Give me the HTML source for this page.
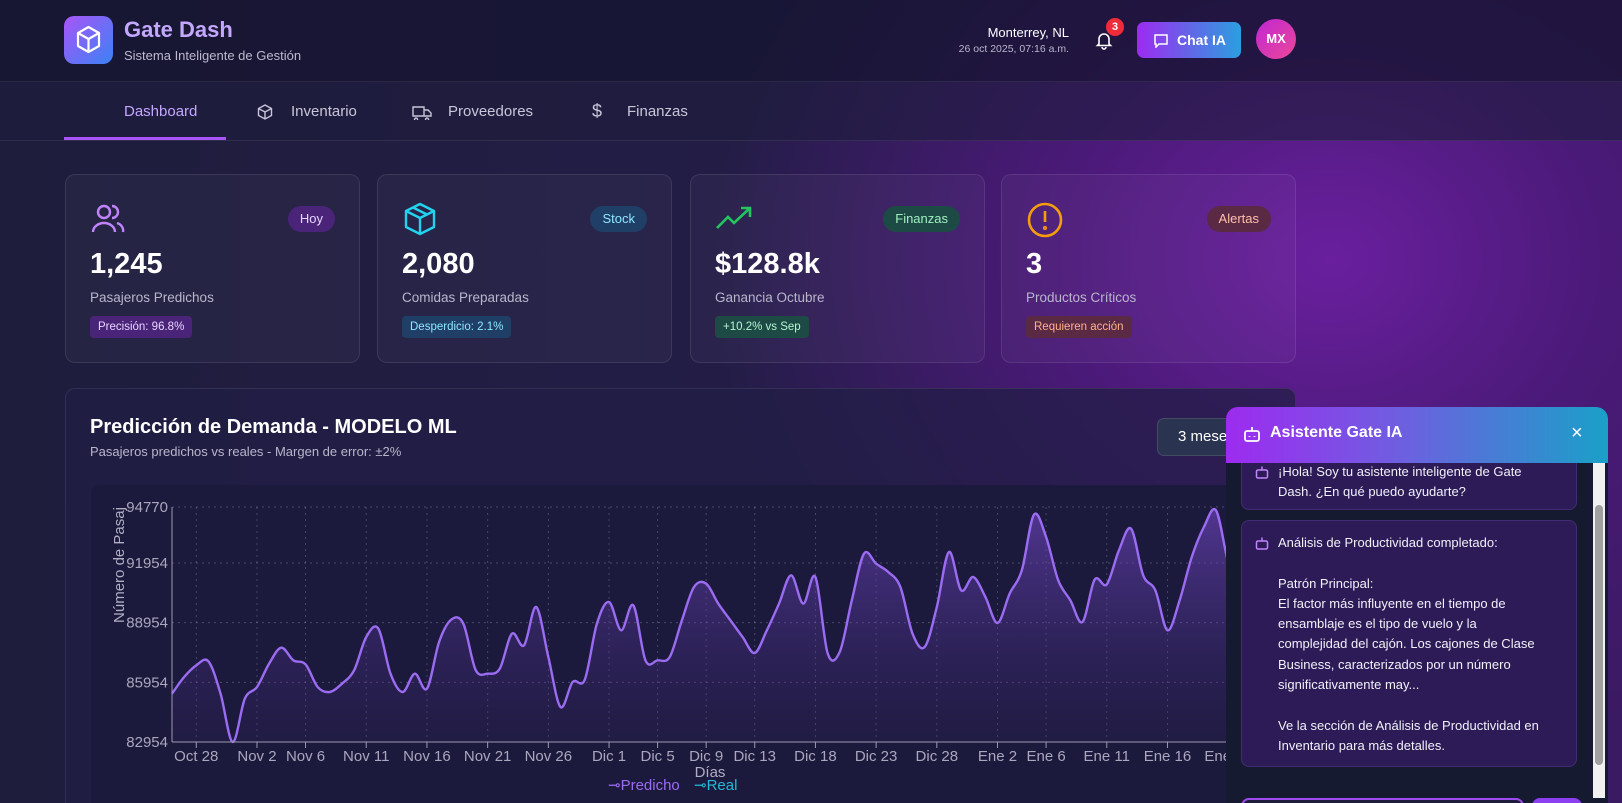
<!DOCTYPE html>
<html><head><meta charset="utf-8">
<style>
*{box-sizing:border-box;margin:0;padding:0}
html,body{width:1622px;height:803px;overflow:hidden}
body{position:relative;font-family:"Liberation Sans",sans-serif;color:#fff;
background:radial-gradient(ellipse 620px 520px at 1330px 260px,#6a1f9e 0%,#4a1a78 45%,rgba(40,22,80,0) 100%),linear-gradient(90deg,#1e1d3c 0%,#241d48 55%,#3a1a62 100%);}
.abs{position:absolute}
.header{left:0;top:0;width:1622px;height:82px;background:rgba(22,20,48,0.75);border-bottom:1px solid rgba(255,255,255,0.08)}
.nav{left:0;top:82px;width:1622px;height:59px;background:rgba(30,28,60,0.6);border-bottom:1px solid rgba(255,255,255,0.08)}
.navitem{position:absolute;top:21px;font-size:15px;color:#c8c6d8}
.card{position:absolute;top:174px;width:295px;height:189px;background:rgba(255,255,255,0.035);border:1px solid rgba(255,255,255,0.09);border-radius:10px}
.card .big{position:absolute;left:24px;top:73px;font-size:29px;font-weight:bold}
.card .lbl{position:absolute;left:24px;top:115px;font-size:13.5px;color:#b9b6cc}
.card .pill{position:absolute;left:24px;top:141px;height:22px;padding:0 8px;font-size:11.5px;line-height:22px;border-radius:4px}
.card .badge{position:absolute;right:24px;top:31px;height:26px;padding:0 12px;font-size:13px;line-height:26px;border-radius:13px}
.card .ico{position:absolute;left:24px;top:26px}
.chartcard{left:65px;top:388px;width:1231px;height:415px;background:rgba(34,30,70,0.75);border:1px solid rgba(255,255,255,0.08);border-bottom:none;border-radius:10px 10px 0 0;overflow:hidden}
.chat{left:1226px;top:407px;width:382px;height:396px;background:#161a30;border-radius:12px 12px 0 0;overflow:hidden}
.msg{position:absolute;left:15px;width:336px;background:#2c1b56;border:1px solid rgba(160,120,255,0.18);border-radius:8px;font-size:13px;line-height:20.3px;color:#f2f0fa;white-space:nowrap;overflow:hidden}
</style></head><body>
<div class="abs header">
 <div class="abs" style="left:64px;top:16px;width:49px;height:48px;border-radius:10px;background:linear-gradient(135deg,#a855f7,#3b82f6)">
  <svg width="49" height="48" viewBox="0 0 49 48"><g fill="none" stroke="#fff" stroke-width="2.2" stroke-linejoin="round"><path d="M24.5 11 L35 17 L35 30 L24.5 36 L14 30 L14 17 Z"/><path d="M14 17 L24.5 23 L35 17 M24.5 23 L24.5 36"/></g></svg></div>
 <div class="abs" style="left:124px;top:17px;font-size:22px;font-weight:bold;color:#c4a8ff">Gate Dash</div>
 <div class="abs" style="left:124px;top:48px;font-size:13px;color:#bdb9d0">Sistema Inteligente de Gestión</div>
 <div class="abs" style="right:553px;top:25px;font-size:13px;color:#fff;text-align:right">Monterrey, NL</div>
 <div class="abs" style="right:553px;top:43px;font-size:10.5px;color:#b9b6cc;text-align:right">26 oct 2025, 07:16 a.m.</div>
 <div class="abs" style="left:1094px;top:30px;width:20px;height:20px">
  <svg width="20" height="20" viewBox="0 0 20 20"><path d="M5 14 V9 a5 5 0 0 1 10 0 V14 L16.5 15.5 H3.5 Z M8 17 a2 2 0 0 0 4 0" fill="none" stroke="#fff" stroke-width="1.6"/></svg></div>
 <div class="abs" style="left:1106px;top:18px;width:18px;height:18px;border-radius:9px;background:#ef2b3a;font-size:11px;font-weight:bold;text-align:center;line-height:18px">3</div>
 <div class="abs" style="left:1137px;top:22px;width:104px;height:36px;border-radius:7px;background:linear-gradient(90deg,#9d2bf0,#2b9fe0);font-size:14px;font-weight:bold;line-height:36px;padding-left:40px">Chat IA
  <svg class="abs" style="left:16px;top:11px" width="16" height="15" viewBox="0 0 16 15"><path d="M2 2 H14 V11 H6 L3 14 V11 H2 Z" fill="none" stroke="#fff" stroke-width="1.5"/></svg></div>
 <div class="abs" style="left:1256px;top:19px;width:40px;height:40px;border-radius:20px;background:linear-gradient(135deg,#c026d3,#ec4899);font-size:13px;font-weight:bold;text-align:center;line-height:40px">MX</div>
</div>
<div class="abs nav">
 <div class="navitem" style="left:124px;color:#c4a8ff">Dashboard</div>
 <div class="abs" style="left:64px;top:55px;width:162px;height:3px;background:#a855f7"></div>
 <div class="navitem" style="left:256px">
  <svg style="position:absolute;left:0;top:0" width="18" height="18" viewBox="0 0 18 18"><path d="M9 2 L15.5 5.5 V12.5 L9 16 L2.5 12.5 V5.5 Z M2.5 5.5 L9 9 L15.5 5.5 M9 9 V16" fill="none" stroke="#c8c6d8" stroke-width="1.4"/></svg><span style="margin-left:35px">Inventario</span></div>
 <div class="navitem" style="left:412px">
  <svg style="position:absolute;left:0;top:1px" width="20" height="16" viewBox="0 0 20 16"><path d="M1 3 H12 V12 H1 Z M12 6 H16 L19 9 V12 H12 M4 14 a1.5 1.5 0 1 0 0.1 0 M15 14 a1.5 1.5 0 1 0 0.1 0" fill="none" stroke="#c8c6d8" stroke-width="1.4"/></svg><span style="margin-left:36px">Proveedores</span></div>
 <div class="navitem" style="left:592px"><span style="font-size:18px;position:absolute;left:0;top:-2px">$</span><span style="margin-left:35px">Finanzas</span></div>
</div>

<div class="card" style="left:65px">
 <svg class="ico" width="36" height="36" viewBox="0 0 36 36"><g fill="none" stroke="#c084fc" stroke-width="2.4"><circle cx="14" cy="11" r="6"/><path d="M3 31 a11 9 0 0 1 22 0 M22 5 a6 6 0 0 1 0 12 M27 22 a9 8 0 0 1 6 9"/></g></svg>
 <div class="badge" style="background:#4a2478;color:#e5d5ff">Hoy</div>
 <div class="big">1,245</div><div class="lbl">Pasajeros Predichos</div>
 <div class="pill" style="background:#4a2478;color:#e7d6ff">Precisión: 96.8%</div></div>
<div class="card" style="left:377px">
 <svg class="ico" width="36" height="36" viewBox="0 0 36 36"><g fill="none" stroke="#22d3ee" stroke-width="2.4" stroke-linejoin="round"><path d="M18 3 L32 10 V26 L18 33 L4 26 V10 Z M4 10 L18 17 L32 10 M18 17 V33 M11 6.5 L25 13.5"/></g></svg>
 <div class="badge" style="background:#1f3f66;color:#8fe6ff">Stock</div>
 <div class="big">2,080</div><div class="lbl">Comidas Preparadas</div>
 <div class="pill" style="background:#1f3f66;color:#8fe6ff">Desperdicio: 2.1%</div></div>
<div class="card" style="left:690px">
 <svg class="ico" width="38" height="36" viewBox="0 0 38 36"><g fill="none" stroke="#22c55e" stroke-width="2.6"><path d="M2 27 L13 16 L19 22 L35 7 M26 7 H35 V16"/></g></svg>
 <div class="badge" style="background:#1d4a45;color:#9ef0c0">Finanzas</div>
 <div class="big">$128.8k</div><div class="lbl">Ganancia Octubre</div>
 <div class="pill" style="background:#1d4a45;color:#b5f5cf">+10.2% vs Sep</div></div>
<div class="card" style="left:1001px">
 <svg class="ico" width="38" height="38" viewBox="0 0 38 38"><g fill="none" stroke="#f59e0b" stroke-width="2.6"><circle cx="19" cy="19" r="16"/><path d="M19 10 V21"/><circle cx="19" cy="27" r="0.8"/></g></svg>
 <div class="badge" style="background:#5a2a45;color:#ffc0a8">Alertas</div>
 <div class="big">3</div><div class="lbl">Productos Críticos</div>
 <div class="pill" style="background:#5a2a45;color:#ffb08a">Requieren acción</div></div>

<div class="abs chartcard">
 <div class="abs" style="left:24px;top:27px;font-size:20px;font-weight:bold">Predicción de Demanda - MODELO ML</div>
 <div class="abs" style="left:24px;top:55px;font-size:13px;color:#b9b6cc">Pasajeros predichos vs reales - Margen de error: ±2%</div>
 <div class="abs" style="left:1091px;top:29px;width:100px;height:38px;border-radius:7px;background:#2a3350;border:1px solid rgba(255,255,255,0.12);font-size:15px;line-height:36px;padding-left:20px">3 meses</div>
 <div class="abs" style="left:25px;top:96px;width:1195px;height:330px;border-radius:8px;background:#1c1a3c"></div>
</div>

<svg id="chart" class="abs" style="left:0;top:0" width="1622" height="803">
 <defs><linearGradient id="fillg" x1="0" y1="0" x2="0" y2="1"><stop offset="0" stop-color="#7c4dd6" stop-opacity="0.55"/><stop offset="1" stop-color="#3a2470" stop-opacity="0.15"/></linearGradient></defs>
</svg>

<div class="abs chat">
 <div class="msg" style="top:40px;height:63px;padding:14px 0 0 36px">
  <svg class="abs" style="left:13px;top:17px" width="14" height="14" viewBox="0 0 14 14"><g fill="none" stroke="#c084fc" stroke-width="1.5"><rect x="1.5" y="5" width="11" height="8" rx="1.5"/><path d="M7 1.5 V5"/></g></svg>
  ¡Hola! Soy tu asistente inteligente de Gate<br>Dash. ¿En qué puedo ayudarte?</div>
 <div class="msg" style="top:113px;height:247px;padding:12px 0 0 36px">
  <svg class="abs" style="left:13px;top:15px" width="14" height="14" viewBox="0 0 14 14"><g fill="none" stroke="#c084fc" stroke-width="1.5"><rect x="1.5" y="5" width="11" height="8" rx="1.5"/><path d="M7 1.5 V5"/></g></svg>
  Análisis de Productividad completado:<br><br>Patrón Principal:<br>El factor más influyente en el tiempo de<br>ensamblaje es el tipo de vuelo y la<br>complejidad del cajón. Los cajones de Clase<br>Business, caracterizados por un número<br>significativamente may...<br><br>Ve la sección de Análisis de Productividad en<br>Inventario para más detalles.</div>
 <div class="abs" style="left:0;top:0;width:382px;height:56px;background:linear-gradient(90deg,#9d2bf0,#6f5ee0 45%,#1aa0c8)">
  <svg class="abs" style="left:17px;top:18px" width="18" height="18" viewBox="0 0 18 18"><g fill="none" stroke="#fff" stroke-width="1.8"><rect x="2" y="6" width="14" height="10" rx="2"/><path d="M9 2 V6"/><path d="M6.5 11 v1 M11.5 11 v1"/></g></svg>
  <div class="abs" style="left:44px;top:17px;font-size:16px;font-weight:bold">Asistente Gate IA</div>
  <div class="abs" style="left:345px;top:15px;font-size:20px">×</div>
 </div>
 <div class="abs" style="left:367px;top:56px;width:12px;height:335px;background:#f1f1f1"><div style="position:absolute;left:2px;top:42px;width:8px;height:260px;border-radius:4px;background:#a0a0a0"></div></div>
 <div class="abs" style="left:15px;top:391px;width:283px;height:30px;border:2px solid #9d4bf0;border-radius:8px;background:#1e1c3a"></div>
 <div class="abs" style="left:306px;top:391px;width:50px;height:30px;border-radius:8px;background:#8b3ff0"></div>
</div>

<script>
const dayValues=[85384,86222,86809,87010,85384,82954,85133,85719,86893,87697,87060,86859,85719,85468,85887,86557,88233,88652,86390,85468,86390,85636,87982,89105,88904,86591,86390,86641,88401,87814,89742,87228,84714,85971,86088,88904,89993,88569,89826,87060,87060,87228,89071,90747,90915,89909,89071,88233,87429,88569,89909,91334,89909,91250,87429,87479,90077,92423,91921,91502,90747,88401,87731,89742,92507,90580,91250,90245,88937,90412,91585,94384,93261,91083,90077,88988,91116,90881,92591,93680,91334,90580,88569,90077,92256,93764,94600,92000,90500,91500];
const xTickLabels=["Oct 28","Nov 2","Nov 6","Nov 11","Nov 16","Nov 21","Nov 26","Dic 1","Dic 5","Dic 9","Dic 13","Dic 18","Dic 23","Dic 28","Ene 2","Ene 6","Ene 11","Ene 16","Ene 21"];
const xTickDays=[2,7,11,16,21,26,31,36,40,44,48,53,58,63,68,72,77,82,87];
const yTicks=[82954,85954,88954,91954,94770];
const yMin=82954,yMax=94770;
const NS="http://www.w3.org/2000/svg";
const svg=document.getElementById('chart');
const X0=172,DX=12.14,YT=507,YB=742;
function xs(d){return X0+d*DX;}
function ys(v){return YB-(v-yMin)/(yMax-yMin)*(YB-YT);}
function mk(t,a){const e=document.createElementNS(NS,t);for(const k in a)e.setAttribute(k,a[k]);svg.appendChild(e);return e;}
const xEnd=xs(dayValues.length-1);
yTicks.forEach((v,i)=>{
 const g=mk('line',{x1:X0,x2:xEnd,y1:ys(v),y2:ys(v),stroke:'rgba(200,200,230,0.28)','stroke-dasharray':'2 4'});
 
 
 const t=mk('text',{x:X0-4,y:ys(v)+5,'text-anchor':'end','font-size':15,fill:'#a9a7bd','font-family':'Liberation Sans'});
 t.textContent=yTicks[i];
 
 
});
xTickDays.forEach((d,i)=>{
 const g=mk('line',{x1:xs(d),x2:xs(d),y1:YT,y2:YB,stroke:'rgba(200,200,230,0.25)','stroke-dasharray':'2 4'});
 
 
 const tk=mk('line',{x1:xs(d),x2:xs(d),y1:YB,y2:YB+6,stroke:'#9a98b0'});
 
 
 const t=mk('text',{x:xs(d),y:YB+19,'text-anchor':'middle','font-size':15,fill:'#a9a7bd','font-family':'Liberation Sans'});
 t.textContent=xTickLabels[i];
 
 
});
const pts=dayValues.map((v,i)=>[xs(i),ys(v)]);
let d='M'+pts[0][0]+','+pts[0][1];
for(let i=0;i<pts.length-1;i++){
 const p0=pts[i-1]||pts[i],p1=pts[i],p2=pts[i+1],p3=pts[i+2]||p2;
 const c1=[p1[0]+(p2[0]-p0[0])/6,p1[1]+(p2[1]-p0[1])/6],c2=[p2[0]-(p3[0]-p1[0])/6,p2[1]-(p3[1]-p1[1])/6];
 d+=' C'+c1[0]+','+c1[1]+' '+c2[0]+','+c2[1]+' '+p2[0]+','+p2[1];
}
const area=mk('path',{d:d+' L'+xEnd+','+YB+' L'+X0+','+YB+' Z',fill:'url(#fillg)'});


const line=mk('path',{d:d,fill:'none',stroke:'#9b6cf2','stroke-width':2.4});


const ax=mk('line',{x1:X0,x2:X0,y1:YT,y2:YB,stroke:'#9a98b0'});


const axx=mk('line',{x1:X0,x2:xEnd,y1:YB,y2:YB,stroke:'#9a98b0'});


const yt=mk('text',{x:0,y:0,transform:'translate(124,565) rotate(-90)','text-anchor':'middle','font-size':15,fill:'#b0aec4','font-family':'Liberation Sans'});
yt.textContent='Número de Pasaj';


const xt=mk('text',{x:710,y:777,'text-anchor':'middle','font-size':15,fill:'#b0aec4','font-family':'Liberation Sans'});
xt.textContent='Días';


const l1=mk('text',{x:608,y:790,'font-size':15,fill:'#9b6cf2','font-family':'Liberation Sans'});
l1.textContent='⊸Predicho';


const l2=mk('text',{x:694,y:790,'font-size':15,fill:'#22b8d8','font-family':'Liberation Sans'});
l2.textContent='⊸Real';


</script>
</body></html>
